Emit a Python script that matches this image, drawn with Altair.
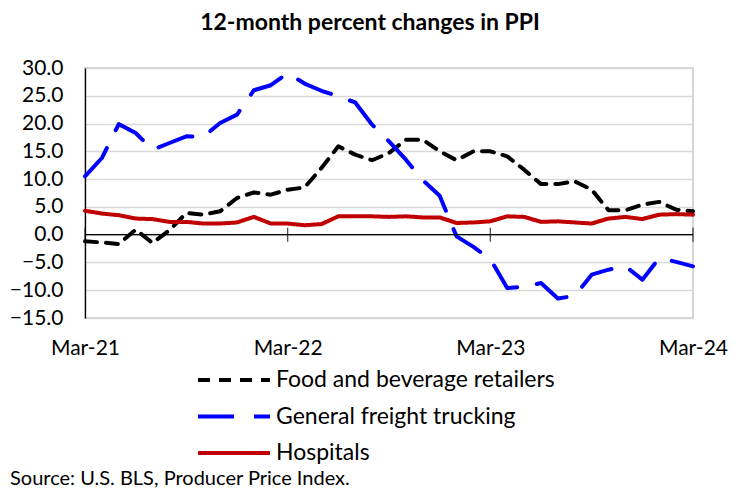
import altair as alt
import pandas as pd

series_names = ["Food and beverage retailers", "General freight trucking", "Hospitals"]
series_colors = ["#000000", "#0000FF", "#C00000"]

month_labels = list(pd.date_range("2021-03-01", "2024-03-01", freq="MS").strftime("%b-%y"))

food = [-1.2, -1.4, -1.7, 0.9, -1.5, 0.8, 3.9, 3.6, 4.2, 6.6, 7.6, 7.2, 8.1,
        8.5, 12.0, 15.9, 14.4, 13.4, 14.7, 17.1, 17.1, 15.0, 13.4, 15.0, 15.0,
        14.1, 11.7, 9.1, 9.1, 9.6, 8.1, 4.4, 4.4, 5.4, 5.9, 4.5, 4.2]
freight = [10.5, 13.8, 19.9, 18.3, 15.3, 16.5, 17.7, 17.6, 20.1, 21.6, 26.0, 26.9, 29.1,
           27.2, 25.9, 24.9, 23.8, 19.8, 16.8, 13.5, 9.8, 7.0, -0.3, -2.2, -4.4,
           -9.6, -9.4, -8.7, -11.5, -11.0, -7.2, -6.3, -5.7, -8.1, -4.2, -4.9, -5.7]
hospitals = [4.3, 3.8, 3.5, 2.9, 2.8, 2.3, 2.3, 2.0, 2.0, 2.2, 3.2, 2.0, 2.0,
             1.7, 1.9, 3.3, 3.3, 3.3, 3.2, 3.3, 3.1, 3.1, 2.1, 2.2, 2.4,
             3.3, 3.2, 2.3, 2.4, 2.2, 2.0, 2.9, 3.2, 2.8, 3.6, 3.7, 3.6]

tick_months = ["Mar-21", "Mar-22", "Mar-23", "Mar-24"]
y_ticks = [-15, -10, -5, 0, 5, 10, 15, 20, 25, 30]

rows = []
for name, vals in zip(series_names, [food, freight, hospitals]):
    for i, (m, v) in enumerate(zip(month_labels, vals)):
        rows.append({"idx": i, "month": m, "series": name, "value": v})
df = pd.DataFrame(rows)

tick_idx = [month_labels.index(m) for m in tick_months]
label_expr = " : ".join(
    [f"datum.value == {i} ? '{m}'" for i, m in zip(tick_idx, tick_months)]
) + " : ''"

x_scale = alt.Scale(domain=[0, len(month_labels) - 1], nice=False, zero=False)
y_scale = alt.Scale(domain=[-15, 30], nice=False)

x_axis = alt.Axis(values=tick_idx, labelExpr=label_expr, title=None, grid=False,
                  ticks=False, domain=False, labelFontSize=21, labelPadding=19,
                  labelColor="#000000", labelOverlap=False, labelFlush=False)
y_axis = alt.Axis(values=y_ticks, format=".1f", title=None, ticks=False,
                  domainColor="#000000", domainWidth=1.3, labelFontSize=21,
                  labelPadding=22, gridColor="#d9d9d9", gridWidth=1.3,
                  labelColor="#000000", labelOverlap=False, labelFlush=False)

lines = alt.Chart(df).mark_line(strokeWidth=4, strokeCap="round", strokeJoin="round").encode(
    x=alt.X("idx:Q", scale=x_scale, axis=x_axis),
    y=alt.Y("value:Q", scale=y_scale, axis=y_axis),
    color=alt.Color("series:N", title=None,
                    scale=alt.Scale(domain=series_names, range=series_colors),
                    legend=alt.Legend(orient="none", legendX=111, legendY=301,
                                      direction="vertical", symbolType="stroke",
                                      symbolSize=5184, symbolStrokeWidth=4,
                                      clipHeight=22, rowPadding=13.5, labelOffset=4,
                                      labelFontSize=23, labelColor="#000000", padding=0,
                                      labelLimit=500)),
    strokeDash=alt.StrokeDash("series:N", title=None,
                              scale=alt.Scale(domain=series_names,
                                              range=[[12, 9], [36, 20], [1, 0]])),
    order=alt.Order("idx:Q"),
)

zero_df = pd.DataFrame({"v": [0]})
zero_rule = alt.Chart(zero_df).mark_rule(color="#000000", strokeWidth=1.3).encode(
    y=alt.Y("v:Q", scale=y_scale, axis=y_axis)
)

ticks_df = pd.DataFrame({"idx": tick_idx, "v": [0] * len(tick_idx)})
zero_ticks = alt.Chart(ticks_df).mark_tick(orient="vertical", size=14, thickness=1.3,
                                           color="#000000").encode(
    x=alt.X("idx:Q", scale=x_scale, axis=x_axis),
    y=alt.Y("v:Q", scale=y_scale, axis=y_axis),
)

source = alt.Chart(zero_df).mark_text(
    text="Source: U.S. BLS, Producer Price Index.", align="left", baseline="middle",
    fontSize=20, color="#000000"
).encode(x=alt.value(-75), y=alt.value(411))

chart = alt.layer(lines, zero_rule, zero_ticks, source).properties(
    width=608,
    height=250,
    autosize=alt.AutoSizeParams(type="none"),
    padding={"left": 77, "top": 60, "right": 37, "bottom": 172},
    title=alt.TitleParams("12-month percent changes in PPI", fontSize=23, fontWeight="bold",
                          anchor="middle", dx=-19, offset=22, color="#000000"),
).configure(font="Lato").configure_axis(labelOverlap=False).configure_view(
    stroke="#c8c8c8", strokeWidth=1.5)

chart.save("out.html", embed_options={"renderer": "svg", "actions": False})
